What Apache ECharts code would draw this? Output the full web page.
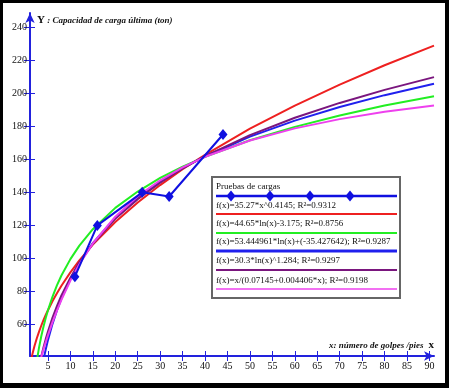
<!DOCTYPE html>
<html>
<head>
<meta charset="utf-8">
<script src="https://cdn.jsdelivr.net/npm/echarts@6/dist/echarts.min.js"></script>
<style>
  body { margin: 0; background: #000; }
  #frame { position: absolute; left: 0; top: 0; width: 449px; height: 388px; background: #000; }
  #main { position: absolute; left: 3px; top: 3px; width: 442px; height: 380px; background: #fff; }
</style>
</head>
<body>
<div id="frame"><div id="main"></div></div>
<script>
// datos de las pruebas de carga
var pruebasX = [11, 16, 26, 32, 44]
var pruebasY = [89, 120, 140, 137.5, 175]

// curvas de ajuste
var curvaX = [1, 1.5, 2, 2.5, 3, 3.5, 4, 4.5, 5, 6, 7, 8, 10, 12, 15, 20, 25, 30, 35, 40, 50, 60, 70, 80, 91]
var potencial = [35.3, 41.7, 47.0, 51.6, 55.6, 59.3, 62.7, 65.8, 68.7, 74.1, 79.0, 83.5, 91.6, 98.8, 108.4, 122.1, 133.9, 144.4, 154.0, 162.7, 178.5, 192.5, 205.2, 216.9, 228.8]
var logaritmica = [-3.2, 14.9, 27.8, 37.7, 45.9, 52.8, 58.7, 64.0, 68.7, 76.8, 83.7, 89.7, 99.6, 107.8, 117.7, 130.6, 140.5, 148.7, 155.6, 161.5, 171.5, 179.6, 186.5, 192.5, 198.2]
var logaritmica2 = [-35.4, -13.8, 1.6, 13.5, 23.3, 31.5, 38.7, 44.9, 50.6, 60.3, 68.6, 75.7, 87.6, 97.4, 109.3, 124.7, 136.6, 146.4, 154.6, 161.7, 173.7, 183.4, 191.6, 198.8, 205.7]
var logPotencia = [0, 9.5, 18.9, 27.1, 34.2, 40.5, 46.1, 51.2, 55.8, 64.1, 71.2, 77.6, 88.4, 97.5, 108.9, 124.0, 135.9, 145.9, 154.5, 161.9, 174.6, 185.1, 194.1, 202.0, 209.7]
var hiperbolica = [13.2, 19.2, 24.9, 30.3, 35.4, 40.3, 44.9, 49.3, 53.5, 61.3, 68.4, 75.0, 86.6, 96.5, 109.1, 125.3, 137.7, 147.3, 155.1, 161.5, 171.4, 178.7, 184.3, 188.7, 192.6]

var xTicks = [5, 10, 15, 20, 25, 30, 35, 40, 45, 50, 55, 60, 65, 70, 75, 80, 85, 90]
var yTicks = [60, 80, 100, 120, 140, 160, 180, 200, 220, 240]

var nombres = [
  'Pruebas de cargas',
  'f(x)=35.27*x^0.4145; R²=0.9312',
  'f(x)=44.65*ln(x)-3.175; R²=0.8756',
  'f(x)=53.444961*ln(x)+(-35.427642); R²=0.9287',
  'f(x)=30.3*ln(x)^1.284; R²=0.9297',
  'f(x)=x/(0.07145+0.004406*x); R²=0.9198'
]
var colores = ['#1010e0', '#ee2020', '#22ee22', '#2020ee', '#7a167e', '#ee40ee']
var curvas = [potencial, logaritmica, logaritmica2, logPotencia, hiperbolica]

var ejeColor = '#2222dd'
var fuente = 'Liberation Serif'

var myChart = echarts.init(document.getElementById('main'))

function pares (xs, ys) {
  return xs.map(function (x, i) { return [x, ys[i]] })
}

var series = []
curvas.forEach(function (c, i) {
  series.push({
    name: nombres[i + 1],
    type: 'line',
    data: pares(curvaX, c),
    showSymbol: false,
    clip: true,
    lineStyle: { color: colores[i + 1], width: 2 },
    z: 2
  })
})
series.push({
  name: nombres[0],
  type: 'line',
  data: pares(pruebasX, pruebasY),
  symbol: 'diamond',
  symbolSize: [9, 11],
  itemStyle: { color: colores[0] },
  lineStyle: { color: colores[0], width: 2 },
  z: 5
})

// leyenda dibujada a mano (texto encima de la linea)
var graphic = []
var legX = 209, legY = 174
graphic.push({
  type: 'rect', z: 100,
  shape: { x: legX, y: legY, width: 188, height: 121 },
  style: { fill: '#fff', stroke: '#666', lineWidth: 2 }
})
var textY = [185, 204, 222, 240, 259, 279]
var lineY = [193, 211, 230, 248, 267, 286]
var anchos = [2.5, 2, 2, 3, 2, 1.5]
nombres.forEach(function (n, i) {
  graphic.push({
    type: 'text', z: 101, left: legX + 4, top: textY[i] - 6,
    style: { text: n, font: '9px "' + fuente + '"', fill: '#111' }
  })
  graphic.push({
    type: 'line', z: 102,
    shape: { x1: legX + 4, y1: lineY[i], x2: legX + 185, y2: lineY[i] },
    style: { stroke: colores[i], lineWidth: anchos[i] }
  })
})
;[228, 267, 307, 347].forEach(function (dx) {
  graphic.push({
    type: 'polygon', z: 103,
    shape: { points: [[dx, lineY[0] - 5.5], [dx + 4.5, lineY[0]], [dx, lineY[0] + 5.5], [dx - 4.5, lineY[0]]] },
    style: { fill: colores[0] }
  })
})
// titulos de los ejes
graphic.push({
  type: 'text', z: 100, left: 34, top: 12,
  style: {
    text: '{a|Y}{b| : Capacidad de carga última (ton)}',
    rich: {
      a: { fontFamily: fuente, fontSize: 11, fontWeight: 'bold', fill: '#111' },
      b: { fontFamily: fuente, fontSize: 9, fontStyle: 'italic', fontWeight: 'bold', fill: '#111' }
    }
  }
})
graphic.push({
  type: 'text', z: 100, right: 11, top: 337,
  style: {
    text: '{b|x: número de golpes /pies }{a| x}',
    rich: {
      a: { fontFamily: fuente, fontSize: 11, fontWeight: 'bold', fill: '#111' },
      b: { fontFamily: fuente, fontSize: 9, fontStyle: 'italic', fontWeight: 'bold', fill: '#111' }
    }
  }
})

var option = {
  backgroundColor: '#fff',
  animation: false,
  grid: { left: 27, right: 11, top: 10, bottom: 27 },
  xAxis: [{
    type: 'value', min: 1, max: 91,
    splitLine: { show: false },
    axisLine: { onZero: false, lineStyle: { color: ejeColor, width: 2 }, symbol: ['none', 'arrow'], symbolSize: [7, 10] },
    axisTick: { customValues: xTicks, length: 5, lineStyle: { color: ejeColor } },
    axisLabel: { customValues: xTicks, color: '#111', fontFamily: fuente, fontSize: 10, margin: 5 }
  }, {
    type: 'value', min: 1, max: 91, position: 'bottom',
    splitLine: { show: false },
    axisLine: { show: false },
    axisTick: { customValues: xTicks, inside: true, length: 5, lineStyle: { color: ejeColor } },
    axisLabel: { show: false }
  }],
  yAxis: [{
    type: 'value', min: 41, max: 248.5,
    splitLine: { show: false },
    axisLine: { onZero: false, lineStyle: { color: ejeColor, width: 2 }, symbol: ['none', 'arrow'], symbolSize: [7, 10] },
    axisTick: { customValues: yTicks, length: 6, lineStyle: { color: ejeColor } },
    axisLabel: { customValues: yTicks, color: '#111', fontFamily: fuente, fontSize: 10, margin: 3 }
  }, {
    type: 'value', min: 41, max: 248.5, position: 'left',
    splitLine: { show: false },
    axisLine: { show: false },
    axisTick: { customValues: yTicks, inside: true, length: 5, lineStyle: { color: ejeColor } },
    axisLabel: { show: false }
  }],
  series: series,
  graphic: graphic
}

myChart.setOption(option, true)
</script>
</body>
</html>
